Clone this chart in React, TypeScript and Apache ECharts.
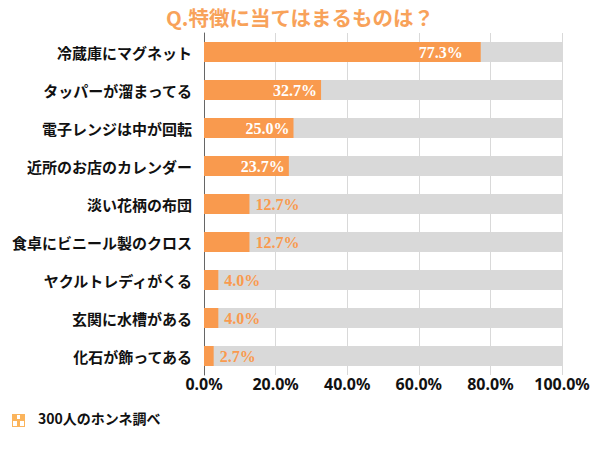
import React, { useEffect, useRef } from "react";
import * as echarts from "echarts";

const categories = [
  "冷蔵庫にマグネット",
  "タッパーが溜まってる",
  "電子レンジは中が回転",
  "近所のお店のカレンダー",
  "淡い花柄の布団",
  "食卓にビニール製のクロス",
  "ヤクルトレディがくる",
  "玄関に水槽がある",
  "化石が飾ってある",
];
const values = [77.3, 32.7, 25.0, 23.7, 12.7, 12.7, 4.0, 4.0, 2.7];
const xTicks = [0, 20, 40, 60, 80, 100];

const TITLE = "Q.特徴に当てはまるものは？";
const SOURCE = "300人のホンネ調べ";
const ORANGE = "#f99a4e";

export default function App() {
  const ref = useRef<HTMLDivElement>(null);
  useEffect(() => {
    if (!ref.current) return;
    const chart = echarts.init(ref.current, null, { renderer: "svg" });
    const data = values.map((v) => {
      const inside = v >= 20;
      return {
        value: v,
        label: inside
          ? { position: "insideRight", color: "#ffffff", distance: v > 50 ? 18 : 4 }
          : { position: "right", color: ORANGE, distance: 6 },
      };
    });
    chart.setOption({
      animation: false,
      title: {
        text: TITLE,
        left: "center",
        top: 2,
        textStyle: {
          color: "#f8a25a",
          fontSize: 20.5,
          fontWeight: "bold",
          fontFamily: "Noto Sans CJK JP",
        },
      },
      grid: { left: 204, right: 38, top: 33, bottom: 75, containLabel: false },
      xAxis: {
        type: "value",
        min: xTicks[0],
        max: xTicks[xTicks.length - 1],
        interval: 20,
        axisLine: { show: false },
        axisTick: { show: false },
        splitLine: { show: true, lineStyle: { color: "#d9d9d9", width: 1 } },
        axisLabel: {
          formatter: (v: number) => v.toFixed(1) + "%",
          color: "#111",
          fontSize: 16,
          fontWeight: "bold",
          fontFamily: "Noto Sans",
          margin: 1,
        },
      },
      yAxis: {
        type: "category",
        data: categories,
        inverse: true,
        axisLine: { show: true, lineStyle: { color: "#666", width: 1 } },
        axisTick: { show: false },
        axisLabel: {
          color: "#111",
          fontSize: 15,
          fontWeight: "bold",
          fontFamily: "Noto Sans CJK JP",
          margin: 12,
        },
      },
      series: [
        {
          type: "bar",
          data,
          barWidth: 20,
          itemStyle: { color: ORANGE },
          showBackground: true,
          backgroundStyle: { color: "#d9d9d9" },
          label: {
            show: true,
            formatter: (p: any) => p.value.toFixed(1) + "%",
            fontSize: 16,
            fontWeight: "bold",
            fontFamily: "Liberation Serif",
          },
        },
      ],
      graphic: [
        {
          type: "group",
          left: 12,
          top: 414,
          children: [
            { type: "rect", shape: { x: 0, y: 0, width: 13, height: 13 }, style: { fill: "#fbb45c" } },
            { type: "rect", shape: { x: 5, y: 1, width: 3, height: 4 }, style: { fill: "#ffffff" } },
            { type: "rect", shape: { x: 1, y: 7, width: 4, height: 5 }, style: { fill: "#ffffff" } },
            { type: "rect", shape: { x: 8, y: 7, width: 4, height: 5 }, style: { fill: "#ffffff" } },
          ],
        },
        {
          type: "text",
          left: 38,
          top: 411,
          style: {
            text: SOURCE,
            fill: "#111",
            fontSize: 14,
            fontWeight: "bold",
            fontFamily: "Noto Sans CJK JP",
          },
        },
      ],
    });
    return () => chart.dispose();
  }, []);
  return <div ref={ref} style={{ width: 600, height: 450, margin: -8 }} />;
}
